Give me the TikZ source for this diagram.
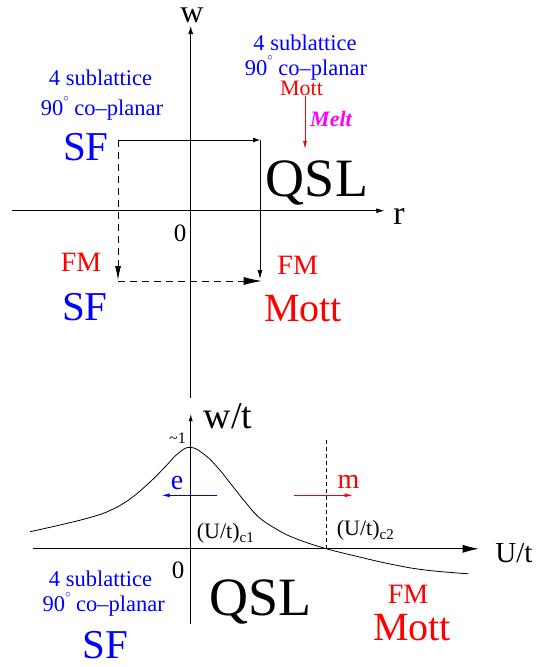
\documentclass[tikz,border=0pt]{standalone}
\usepackage{fontspec}
\setmainfont{Liberation Serif}
\usetikzlibrary{arrows.meta}
\definecolor{mag}{RGB}{255,0,255}
\definecolor{bl}{RGB}{0,0,255}
\definecolor{rd}{RGB}{255,0,0}
\newcommand{\degr}{\raisebox{14.5pt}[0pt][0pt]{\fontsize{11}{11}\selectfont$\circ$}}
\begin{document}
\begin{tikzpicture}[x=1pt,y=-1pt,
  lbl/.style={inner sep=0pt,anchor=base},
  fs/.style={font=\fontsize{#1}{#1}\selectfont},
  ax/.style={line width=0.8pt},
  smalltip/.style={-{Latex[length=8pt,width=5pt]}},
  bigtip/.style={-{Latex[length=16pt,width=8pt]}},
  dash1/.style={dash pattern=on 7pt off 5pt},
  dash2/.style={dash pattern=on 4pt off 3pt}]
\useasboundingbox (0,0) rectangle (556,667);

% ---------- top diagram ----------
\coordinate (wbot) at (190.7,398);
\coordinate (wtop) at (190.7,26);
\coordinate (rl) at (11.7,210.7);
\coordinate (rr) at (384.3,210.7);
\draw[ax,smalltip] (wbot) -- (wtop);
\draw[ax,smalltip] (rl) -- (rr);
\node[lbl,fs=32,text height=15pt] (w) at (192,22) {w};
\node[lbl,fs=34] (r) at (399,224) {r};
\node[lbl,fs=25] (o1) at (180,241.7) {0};

\node[lbl,bl,fs=22.5] (tl1) at (100.5,85) {4 sublattice};
\node[lbl,bl,fs=22.5] (tl2) at (102,115.5) {90\degr{} co--planar};
\node[lbl,bl,fs=41] (sf1) at (86,160.7) {SF};

\node[lbl,bl,fs=22.5] (tr1) at (305,50.7) {4 sublattice};
\node[lbl,bl,fs=22.5] (tr2) at (306,75) {90\degr{} co--planar};
\node[lbl,rd,fs=22] (mott1) at (301.5,95) {Mott};
\node[lbl,mag,fs=22] (melt) at (331,126.7) {\bfseries\itshape Melt};
\coordinate (meltS) at (305,96);
\coordinate (meltE) at (305,149);
\draw[rd,line width=0.8pt,-{Latex[length=8pt,width=4pt]}] (meltS) -- (meltE);

\node[lbl,fs=54] (qsl1) at (317,196.7) {QSL};

\node[lbl,rd,fs=28] (fm1) at (81,271) {FM};
\node[lbl,bl,fs=41] (sf2) at (85,320) {SF};
\node[lbl,rd,fs=28] (fm2) at (297.7,274.3) {FM};
\node[lbl,rd,fs=40] (mott2) at (303,321.7) {Mott};

\coordinate (A) at (118,140);
\coordinate (B) at (260,140);
\coordinate (C) at (260,279);
\coordinate (D) at (118,280);
\coordinate (D2) at (118,281);
\coordinate (E) at (261.7,281);
\draw[ax,-{Latex[length=7pt,width=5pt]}] (A) -- (B);
\draw[ax,-{Latex[length=9pt,width=5pt]}] (B) -- (C);
\draw[ax,dash1,-{Latex[length=14pt,width=6pt]}] (A) -- (D);
\draw[ax,dash1,-{Latex[length=18pt,width=8pt]}] (D2) -- (E);

% ---------- bottom diagram ----------
\coordinate (vbot) at (190.7,624.3);
\coordinate (vtop) at (190.7,414);
\coordinate (hl) at (32.5,548.8);
\coordinate (hr) at (478.7,548.8);
\draw[ax,-{Latex[length=7pt,width=4pt]}] (vbot) -- (vtop);
\draw[ax,bigtip] (hl) -- (hr);
\node[lbl,fs=38] (wt) at (228,428.3) {w/t};
\node[lbl,fs=16] (one) at (177.5,443) {\textasciitilde1};
\node[lbl,fs=29] (ut) at (514,562.7) {U/t};
\node[lbl,fs=25] (o2) at (178,578.3) {0};

\draw[line width=0.8pt] plot[smooth,tension=0.7] coordinates {
 (30,531.7) (60,525) (90,517.5) (110,510.5) (130,499) (150,482)
 (165,467) (178,453.5) (190.5,447.3) (205,455) (218.3,468.3) (231.7,485)
 (245,501.7) (258.3,516.7) (275,528.3) (295,538.3) (325,548.3) (358.3,556.7)
 (391.7,564.3) (425,570) (468.5,573.8)};

\coordinate (dtop) at (326,440);
\coordinate (dbot) at (326,548.8);
\draw[line width=0.7pt,dash2] (dtop) -- (dbot);

\coordinate (eS) at (216.7,495.3);
\coordinate (eE) at (161.7,495.3);
\draw[bl,line width=0.8pt,-{Latex[length=8pt,width=4pt]}] (eS) -- (eE);
\node[lbl,bl,fs=28] (e) at (177,489) {e};
\coordinate (mS) at (294.3,495.3);
\coordinate (mE) at (352.7,495.3);
\draw[rd,line width=0.8pt,-{Latex[length=8pt,width=4pt]}] (mS) -- (mE);
\node[lbl,rd,fs=28] (m) at (348.5,488.3) {m};

\node[lbl,anchor=base west,fs=22] (c1) at (196.7,538.3) {(U/t)\raisebox{-4pt}{\fontsize{15}{15}\selectfont c1}};
\node[lbl,anchor=base west,fs=22] (c2) at (336.7,535) {(U/t)\raisebox{-4pt}{\fontsize{15}{15}\selectfont c2}};

\node[lbl,bl,fs=22.5] (bl1) at (100.5,586.7) {4 sublattice};
\node[lbl,bl,fs=22.5] (bl2) at (103.7,611.7) {90\degr{} co--planar};
\node[lbl,bl,fs=41] (sf3) at (105.5,658.3) {SF};
\node[lbl,fs=54] (qsl2) at (260.5,615) {QSL};
\node[lbl,rd,fs=28] (fm3) at (408,603.3) {FM};
\node[lbl,rd,fs=40] (mott3) at (412,640) {Mott};
\end{tikzpicture}
\end{document}
